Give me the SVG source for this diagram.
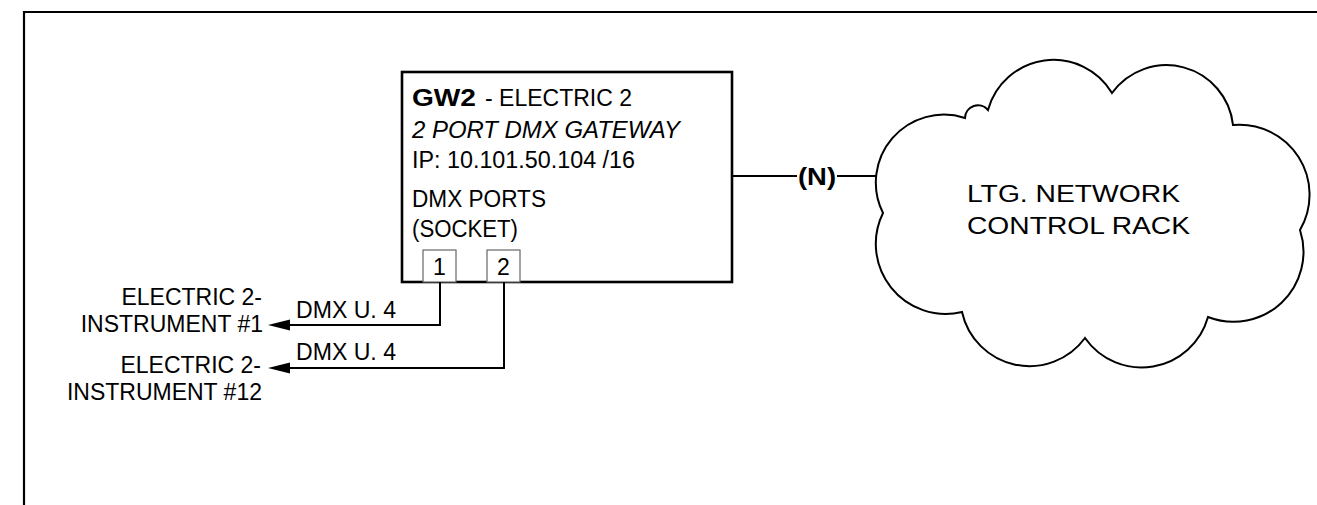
<svg xmlns="http://www.w3.org/2000/svg" width="1317" height="505" viewBox="0 0 1317 505">
<style>
text{font-family:"Liberation Sans",Arial,sans-serif;fill:#000;font-size:23px}
.b{font-weight:bold}
.i{font-style:italic}
.ln{fill:none;stroke:#000;stroke-width:2}
.ah{fill:#000;stroke:none}
.port{fill:#fff;stroke:#666;stroke-width:1.2}
</style>
<rect x="0" y="0" width="1317" height="505" fill="#fff"/>
<path d="M24 505 V12 H1317" fill="none" stroke="#000" stroke-width="2.2"/>

<g id="gateway">
<rect x="402" y="72" width="330" height="210" fill="#fff" stroke="#000" stroke-width="2.6"/>
<text x="412" y="106" class="b" font-size="26" textLength="64" lengthAdjust="spacingAndGlyphs">GW2</text>
<text x="485" y="106" font-size="21" textLength="147" lengthAdjust="spacingAndGlyphs">- ELECTRIC 2</text>
<text x="412" y="138" class="i" textLength="268" lengthAdjust="spacingAndGlyphs">2 PORT DMX GATEWAY</text>
<text x="412" y="168" textLength="223" lengthAdjust="spacingAndGlyphs">IP: 10.101.50.104 /16</text>
<text x="412" y="207" textLength="134" lengthAdjust="spacingAndGlyphs">DMX PORTS</text>
<text x="412" y="237" textLength="106" lengthAdjust="spacingAndGlyphs">(SOCKET)</text>
</g>
<g id="port1">
<rect x="423" y="250" width="33" height="32" class="port"/>
<text x="439.5" y="275" text-anchor="middle" font-size="21">1</text>
</g>
<g id="port2">
<rect x="487" y="250" width="33" height="32" class="port"/>
<text x="503.5" y="275" text-anchor="middle" font-size="21">2</text>
</g>

<g id="cloud">
<path d="M883 213 A68 68 0 0 1 965 118 A13 13 0 0 1 988 110 A68 68 0 0 1 1112 93 A67 67 0 0 1 1233 125 A70 70 0 0 1 1300 230 A70 70 0 0 1 1208 317 A69 69 0 0 1 1085 338 A69 69 0 0 1 962 312 A70 70 0 0 1 883 213 Z" fill="#fff" stroke="#000" stroke-width="2"/>
<text x="967" y="202" font-size="28" textLength="213" lengthAdjust="spacingAndGlyphs">LTG. NETWORK</text>
<text x="967" y="233.5" font-size="28" textLength="223" lengthAdjust="spacingAndGlyphs">CONTROL RACK</text>
</g>

<g id="instrument1">
<text x="262" y="305" text-anchor="end">ELECTRIC 2-</text>
<text x="263" y="332" text-anchor="end">INSTRUMENT #1</text>
</g>
<g id="instrument12">
<text x="261" y="372.5" text-anchor="end">ELECTRIC 2-</text>
<text x="262" y="400" text-anchor="end">INSTRUMENT #12</text>
</g>

<g id="connectors">
<path d="M440 282 V325 H288" class="ln"/>
<polygon points="268,325 290,319.5 290,330.5" class="ah"/>
<path d="M504 282 V368 H288" class="ln"/>
<polygon points="268,368 290,362.5 290,373.5" class="ah"/>
<text x="296" y="318" textLength="100" lengthAdjust="spacingAndGlyphs">DMX U. 4</text>
<text x="296" y="360" textLength="100" lengthAdjust="spacingAndGlyphs">DMX U. 4</text>
<path d="M732 176 H797 M837 176 H876" class="ln" stroke-width="1.8"/>
<text x="798" y="185" class="b" font-size="24" textLength="38" lengthAdjust="spacingAndGlyphs">(N)</text>
</g>
</svg>
